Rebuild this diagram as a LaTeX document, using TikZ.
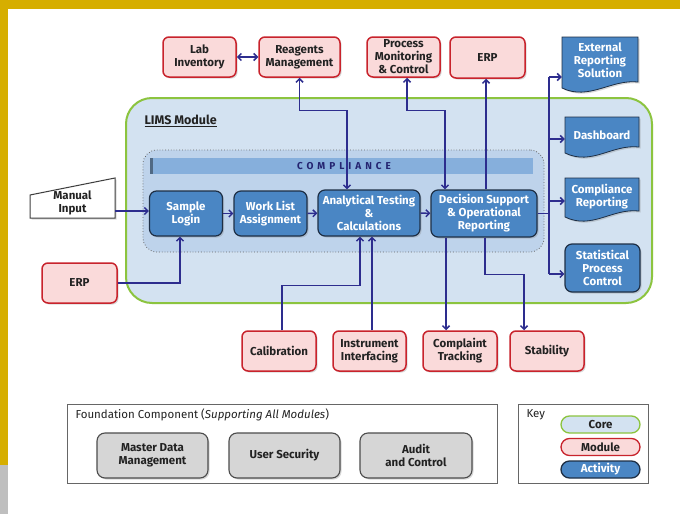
\documentclass[tikz,border=0pt]{standalone}
\usepackage{fontspec}
\setmainfont{Fira Sans}
\usetikzlibrary{arrows.meta,shadows}
\definecolor{goldc}{HTML}{D6AE00}
\definecolor{modfill}{HTML}{FADADA}
\definecolor{modline}{HTML}{C8232C}
\definecolor{actfill}{HTML}{4A86C4}
\definecolor{actline}{HTML}{1E2F45}
\definecolor{corefill}{HTML}{D3E2F1}
\definecolor{coreline}{HTML}{8CC43F}
\definecolor{innerfill}{HTML}{BED3EB}
\definecolor{barfill}{HTML}{86AFDC}
\definecolor{navy}{HTML}{2D2D8E}
\definecolor{grayfill}{HTML}{D6D6D6}
\definecolor{txt}{HTML}{222222}
\newcommand{\docpath}[4]{%
  \path[docshape] (#1,#3) -- (#2,#3) -- (#2,{#4-6}) .. controls ({#2-27},{#4-9}) and ({#1+27},{#4+13}) .. (#1,#4) -- cycle;}
\tikzset{
  bx/.style={font=\fontsize{11.5}{13}\selectfont\bfseries},
  shd/.style={drop shadow={opacity=0.3,shadow xshift=1.5pt,shadow yshift=-1.5pt}},
  module/.style={draw=modline,line width=1.5pt,fill=modfill,rounded corners=6pt,align=center,
    text=txt,bx,inner sep=1pt,minimum height=40pt,shd},
  activity/.style={draw=actline,line width=1.2pt,fill=actfill,rounded corners=7pt,align=center,
    text=white,bx,inner sep=1pt,shd},
  docshape/.style={draw=actline,line width=0.8pt,fill=actfill,drop shadow={opacity=0.3,shadow xshift=1.5pt,shadow yshift=-1.5pt}},
  doctext/.style={align=center,text=white,bx,inner sep=1pt},
  graybox/.style={draw=black!70,line width=1.1pt,fill=grayfill,rounded corners=8pt,align=center,
    text=txt,bx,inner sep=1pt,minimum width=111pt,minimum height=45pt,shd},
  pill/.style={rounded corners=8.5pt,line width=1.3pt,minimum width=79pt,minimum height=17pt,inner sep=0pt,bx},
  arr/.style={draw=navy,line width=1.5pt,-{Straight Barb[length=3.5pt,width=7pt]}},
  arrb/.style={draw=navy,line width=1.5pt,{Straight Barb[length=3.5pt,width=7pt]}-{Straight Barb[length=3.5pt,width=7pt]}},
  bus/.style={draw=navy,line width=1.5pt},
}
\begin{document}
\begin{tikzpicture}[x=1pt,y=-1pt]
\useasboundingbox (0,0) rectangle (680,514);
% frame
\fill[goldc] (0,0) rectangle (680,514);
\fill[black!25] (0,465) rectangle (8,514);
\fill[white] (8,9) rectangle (680,514);

% LIMS core region
\node[draw=coreline,line width=2pt,fill=corefill,rounded corners=26pt,minimum width=526pt,minimum height=205pt,inner sep=0pt] (lims) at (389,200.5) {};
\node[anchor=west,font=\fontsize{12.5}{14}\selectfont\bfseries,text=txt] (limslabel) at (141,121) {\underline{LIMS Module}};
\node[draw=black!60,dotted,line width=0.8pt,fill=innerfill,rounded corners=14pt,minimum width=401pt,minimum height=102pt,inner sep=0pt] (compl) at (343.5,201) {};
\node[fill=barfill,minimum width=383pt,minimum height=16pt,inner sep=0pt] (bar) at (341.5,166) {};
\fill[black!40!barfill] (150,158) rectangle (153,174);
\node[font=\fontsize{10}{12}\selectfont\bfseries\addfontfeature{LetterSpace=40},text=navy!80!black] (compltext) at (344,166) {COMPLIANCE};

% top modules
\node[module,minimum width=73pt] (labinv) at (199.5,57) {Lab\\Inventory};
\node[module,minimum width=81pt] (reagents) at (299.5,57) {Reagents\\Management};
\node[module,minimum width=73pt] (procmon) at (403.5,57) {Process\\Monitoring\\\& Control};
\node[module,minimum width=75pt,minimum height=41pt] (erptop) at (487.5,57.5) {ERP};

% left inputs
\draw[draw=black!75,line width=1pt,fill=white,drop shadow={opacity=0.3,shadow xshift=1.5pt,shadow yshift=-1.5pt}] (30,195) -- (115,178) -- (115,218) -- (30,218) -- cycle;
\node[align=center,text=txt,bx,inner sep=1pt,minimum width=85pt] (manual) at (72.5,203) {Manual\\Input};
\node[module,minimum width=75pt] (erpl) at (79.5,283) {ERP};

% activities
\node[activity,minimum width=73pt,minimum height=45pt] (sample) at (186,213.5) {Sample\\Login};
\node[activity,minimum width=73pt,minimum height=45pt] (worklist) at (270.5,213.5) {Work List\\Assignment};
\node[activity,minimum width=102pt,minimum height=46pt] (analytical) at (369,213) {Analytical Testing\\\&\\Calculations};
\node[activity,minimum width=106pt,minimum height=47pt] (decision) at (484,213.5) {Decision Support\\\& Operational\\Reporting};

% outputs
\docpath{562}{638}{37}{88}
\node[doctext,minimum width=76pt,minimum height=40pt] (ext) at (600,60) {External\\Reporting\\Solution};
\docpath{565}{639}{117}{153}
\node[doctext,minimum width=74pt,minimum height=30pt] (dash) at (602,135) {Dashboard};
\docpath{565}{639}{178}{217}
\node[doctext,minimum width=74pt,minimum height=30pt] (comprep) at (602,197) {Compliance\\Reporting};
\node[activity,minimum width=75pt,minimum height=48pt] (spc) at (602.5,268) {Statistical\\Process\\Control};

% bottom modules
\node[module,minimum width=74pt] (calib) at (279,351) {Calibration};
\node[module,minimum width=73pt] (instr) at (369.5,351) {Instrument\\Interfacing};
\node[module,minimum width=74pt] (complaint) at (460,351) {Complaint\\Tracking};
\node[module,minimum width=74pt] (stability) at (547,351) {Stability};

% connectors
\draw[arrb] (labinv) -- (reagents);
\draw[arr] (sample) -- (worklist);
\draw[arr] (worklist) -- (analytical);
\draw[arr] (analytical) -- (decision);
\coordinate (mi) at (115,211);
\draw[arr] (mi) -- (mi -| sample.west);
\draw[arr] (erpl.east) -| ([xshift=-6pt]sample.south);
\draw[arrb] ([xshift=-22pt]analytical.north) -- ++(0,-79) -| (reagents.south);
\draw[arrb] ([xshift=-39pt]decision.north) -- ++(0,-79) -| ([xshift=3.5pt]procmon.south);
\draw[arr] ([xshift=2pt]decision.north) -- ([xshift=2pt]decision.north |- erptop.south);
\draw[arr] ([xshift=3pt]calib.north) -- ++(0,-45) -| ([xshift=-9pt]analytical.south);
\draw[arr] ([xshift=2.5pt]instr.north) -- ([xshift=2.5pt]instr.north |- analytical.south);
\draw[arr] ([xshift=-38pt]decision.south) -- ([xshift=-38pt]decision.south |- complaint.north);
\draw[arr] ([xshift=1pt]decision.south) -- ++(0,37) -| ([xshift=-23pt]stability.north);
% output bus
\coordinate (bus) at (549,213.5);
\coordinate (b1) at (549,77);
\coordinate (b2) at (549,139);
\coordinate (b3) at (549,201);
\coordinate (b4) at (549,274);
\draw[bus] (decision.east) -- (bus);
\draw[bus] (b1) -- (b4);
\draw[arr] (b1) -- (b1 -| ext.west);
\draw[arr] (b2) -- (b2 -| dash.west);
\draw[arr] (b3) -- (b3 -| comprep.west);
\draw[arr] (b4) -- (b4 -| spc.west);

% foundation
\node[draw=black!60,line width=1pt,fill=white,minimum width=430pt,minimum height=79pt,inner sep=0pt] (found) at (282,443.5) {};
\node[anchor=west,text=txt,font=\fontsize{11.5}{13}\selectfont] (foundtitle) at (72,415) {Foundation Component (\textit{Supporting All Modules})};
\node[graybox] (master) at (152.5,455.5) {Master Data\\Management};
\node[graybox] (usersec) at (284.5,455.5) {User Security};
\node[graybox,minimum width=112pt] (audit) at (416,455.5) {Audit\\and Control};

% key
\node[draw=black!60,line width=1pt,fill=white,minimum width=130pt,minimum height=79pt,inner sep=0pt] (key) at (583,443.5) {};
\node[anchor=west,text=txt,font=\fontsize{11.5}{13}\selectfont] (keytitle) at (523,415) {Key};
\node[pill,draw=coreline,fill=corefill,text=txt] (kcore) at (600.5,424.5) {Core};
\node[pill,draw=modline,fill=modfill,text=txt] (kmod) at (600.5,447) {Module};
\node[pill,draw=actline,fill=actfill,text=white] (kact) at (600.5,469.5) {Activity};
\end{tikzpicture}
\end{document}
